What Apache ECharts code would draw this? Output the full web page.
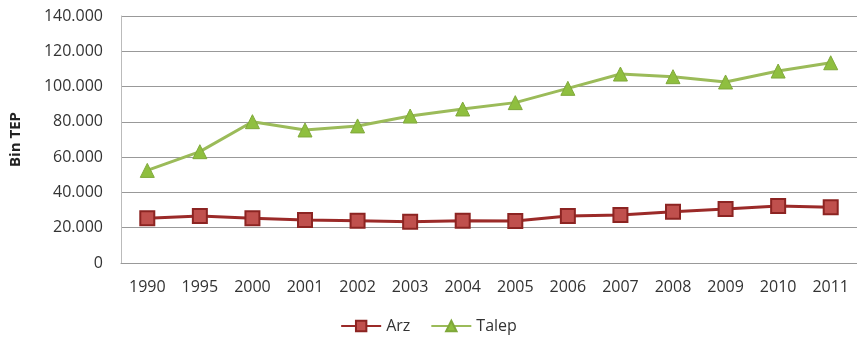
<!DOCTYPE html>
<html>
<head>
<meta charset="utf-8">
<script src="https://cdn.jsdelivr.net/npm/echarts@6/dist/echarts.min.js"></script>
<style>
  html, body { margin: 0; padding: 0; background: #fff; }
  #chart { width: 857px; height: 345px; }
</style>
</head>
<body>
<div id="chart"></div>
<script>
// yıllar
const years = ['1990', '1995', '2000', '2001', '2002', '2003', '2004', '2005', '2006', '2007', '2008', '2009', '2010', '2011']
// Bin TEP
const arz = [25300, 26600, 25300, 24400, 24000, 23400, 24000, 23800, 26600, 27200, 29100, 30600, 32300, 31600]
const talep = [52500, 63100, 80100, 75400, 77700, 83300, 87300, 90900, 99000, 107100, 105600, 102600, 108800, 113500]

const chart = echarts.init(document.getElementById('chart'))

// 140.000 biçimi
function fmt(v) {
  if (v === 0) return '0'
  return (v / 1000).toFixed(0) + '.000'
}

chart.setOption({
  animation: false,
  textStyle: { fontFamily: 'Open Sans, sans-serif' },
  grid: { left: 120, right: 0, top: 16, bottom: 82 },
  legend: {
    data: ['Arz', 'Talep'],
    bottom: 6,
    left: 'center',
    itemWidth: 40,
    itemHeight: 13,
    itemGap: 20,
    textStyle: { fontSize: 16, color: '#333' }
  },
  xAxis: {
    type: 'category',
    data: years,
    axisLine: { lineStyle: { color: '#999' } },
    axisTick: { show: false },
    axisLabel: { fontSize: 16, color: '#333', margin: 16 }
  },
  yAxis: {
    type: 'value',
    min: 0,
    max: 140000,
    interval: 20000,
    name: 'Bin TEP',
    nameLocation: 'middle',
    nameGap: 98,
    nameTextStyle: { fontSize: 15, fontWeight: 'bold', color: '#222' },
    axisLine: { show: true, lineStyle: { color: '#bbb' } },
    axisTick: { show: false },
    axisLabel: { fontSize: 16, color: '#333', margin: 18, formatter: fmt },
    splitLine: { lineStyle: { color: '#999', width: 1 } }
  },
  series: [
    {
      name: 'Arz',
      type: 'line',
      data: arz,
      symbol: 'rect',
      symbolSize: 14,
      lineStyle: { color: '#9b2a28', width: 3 },
      itemStyle: { color: '#c0504d', borderColor: '#8c2422', borderWidth: 2 }
    },
    {
      name: 'Talep',
      type: 'line',
      data: talep,
      symbol: 'triangle',
      symbolSize: 14,
      lineStyle: { color: '#9bbb59', width: 3 },
      itemStyle: { color: '#8fbf3f', borderColor: '#7fa83a', borderWidth: 1 }
    }
  ]
})
</script>
</body>
</html>
